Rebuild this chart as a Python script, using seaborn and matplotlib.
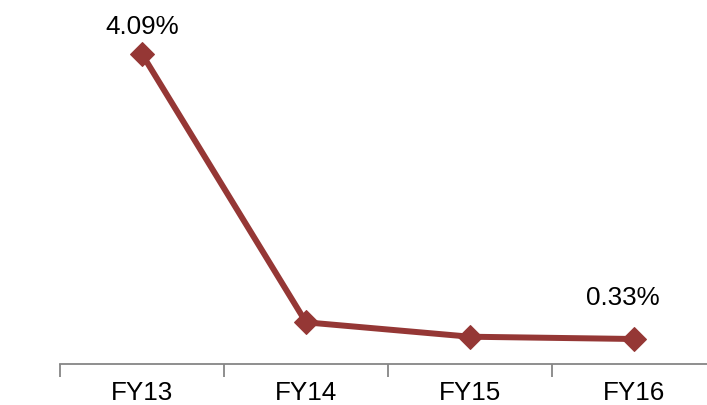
import matplotlib
matplotlib.use("Agg")
import matplotlib.pyplot as plt
import seaborn as sns
import pandas as pd

years = ["FY13", "FY14", "FY15", "FY16"]
ratio = [4.09, 0.55, 0.36, 0.33]
labelled = {"FY13": "4.09%", "FY16": "0.33%"}

sns.set_theme(style="white")
plt.rcParams["font.family"] = ["Liberation Sans", "DejaVu Sans"]

df = pd.DataFrame({"year": years, "ratio": ratio})
df["pos"] = range(len(years))

W, H = 707, 405
fig = plt.figure(figsize=(W / 100, H / 100), dpi=100)
# axes spans from the first tick at x=60px to beyond the right edge
ax_left, ax_right = 60, 716
ax_bottom, ax_top = 364, 23
ax = fig.add_axes([ax_left / W, 1 - ax_bottom / H,
                   (ax_right - ax_left) / W, (ax_bottom - ax_top) / H])

line_color = "#953735"
sns.lineplot(data=df, x="pos", y="ratio", ax=ax, color=line_color,
             linewidth=4.3, marker="D", markersize=12.5,
             markeredgecolor=line_color, markerfacecolor=line_color)

ax.set_xlim(-0.5, len(years) - 0.5)
ax.set_ylim(0, 4.5)
ax.set_xticks(df["pos"])
ax.set_xticklabels(years, fontsize=18.7, color="black")
ax.set_xticks([p - 0.5 for p in range(len(years) + 1)], minor=True)
ax.tick_params(axis="x", which="major", length=0, pad=12)
ax.tick_params(axis="x", which="minor", length=9, width=1.3,
               color="#868686", direction="out", bottom=True)
ax.set_yticks([])
ax.set_xlabel("")
ax.set_ylabel("")
for side in ["top", "right", "left"]:
    ax.spines[side].set_visible(False)
ax.spines["bottom"].set_color("#868686")
ax.spines["bottom"].set_linewidth(1.3)

for _, row in df.iterrows():
    if row["year"] in labelled:
        first = row["pos"] == 0
        dx = 0 if first else -0.07
        ax.annotate(labelled[row["year"]], (row["pos"] + dx, row["ratio"]),
                    xytext=(0, 11 if first else 21),
                    textcoords="offset points", ha="center", va="bottom",
                    fontsize=18.7, color="black")

fig.savefig("out.png", dpi=100)
